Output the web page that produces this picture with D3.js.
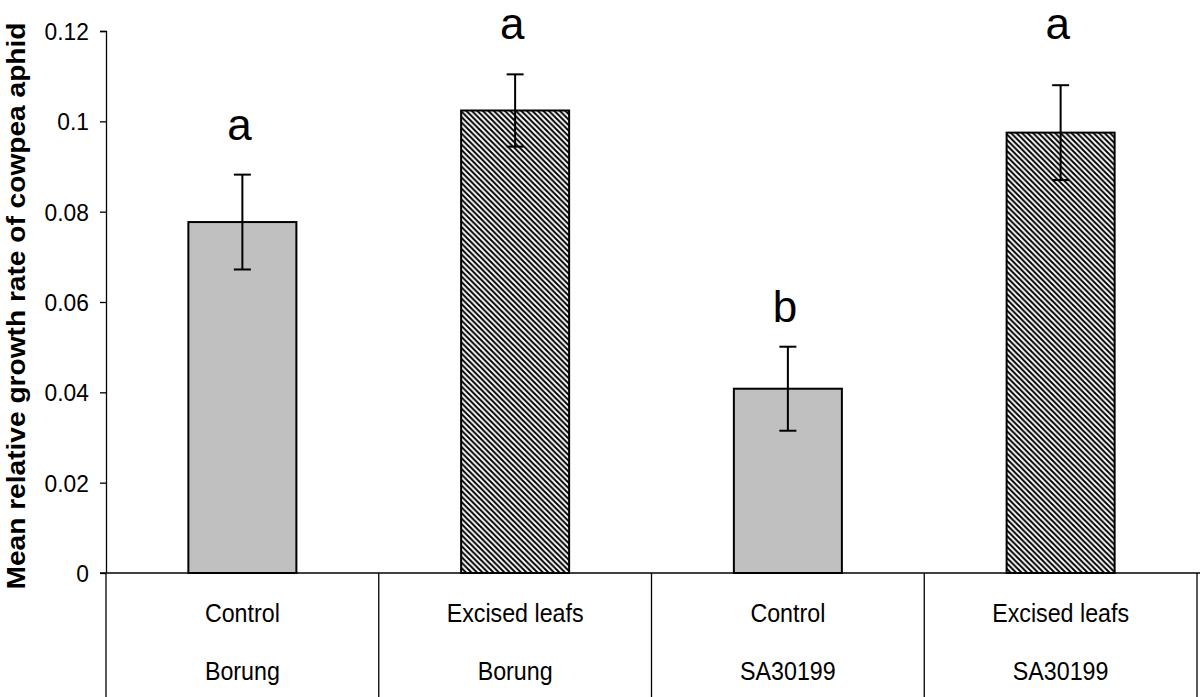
<!DOCTYPE html>
<html>
<head>
<meta charset="utf-8">
<script src="https://cdn.jsdelivr.net/npm/d3@7"></script>
<style>
  body { margin: 0; background: #fff; }
  text { font-family: "Liberation Sans", Arial, sans-serif; fill: #000; }
</style>
</head>
<body>
<svg id="chart" width="1200" height="697"></svg>
<script>
// data
const treatments = ["Control", "Excised leafs", "Control", "Excised leafs"];
const cultivars = ["Borung", "Borung", "SA30199", "SA30199"];
const means = [0.0777, 0.1024, 0.0408, 0.0975];
const errors = [0.0105, 0.0080, 0.0093, 0.0105];
const letters = ["a", "a", "b", "a"];
const letterAt = [0.0959, 0.1182, 0.0556, 0.1182];
const yTicks = [0, 0.02, 0.04, 0.06, 0.08, 0.1, 0.12];

const data = means.map((m, i) => ({
  key: i,
  treatment: treatments[i],
  cultivar: cultivars[i],
  mean: m,
  err: errors[i],
  letter: letters[i],
  letterAt: letterAt[i]
}));

const margin = { top: 31, right: 3, bottom: 124, left: 106 };
const width = 1200 - margin.left - margin.right;
const height = 697 - margin.top - margin.bottom;

const svg = d3.select("#chart");

// hatch for the excised leaf bars
const defs = svg.append("defs");
const pat = defs.append("pattern")
  .attr("id", "hatch")
  .attr("patternUnits", "userSpaceOnUse")
  .attr("width", 5.5)
  .attr("height", 5.5);
pat.append("rect").attr("width", 5.5).attr("height", 5.5).attr("fill", "#fff");
pat.append("path")
  .attr("d", "M-1.375,4.125 L1.375,6.875 M0,0 L5.5,5.5 M4.125,-1.375 L6.875,1.375")
  .attr("stroke", "#000")
  .attr("stroke-width", 2);

const g = svg.append("g").attr("transform", `translate(${margin.left},${margin.top})`);

const xScale = d3.scaleBand()
  .domain(data.map(d => d.key))
  .range([0, width])
  .paddingInner(0)
  .paddingOuter(0);
const barW = xScale.bandwidth() * 0.396;

const yScale = d3.scaleLinear()
  .domain([0, 0.12])
  .range([height, 0]);

// y axis
const yAxis = d3.axisLeft(yScale)
  .tickValues(yTicks)
  .tickSize(6)
  .tickPadding(12)
  .tickFormat(d => d === 0 ? "0" : String(+d.toFixed(2)));
const ya = g.append("g").call(yAxis);
ya.select(".domain").attr("d", `M-6,0.5H0.5V${height}`).attr("stroke", "#000").attr("stroke-width", 1.3);
ya.selectAll(".tick line").attr("stroke", "#000").attr("stroke-width", 1.3);
ya.selectAll(".tick text")
  .style("font-size", "24px")
  .attr("dy", "0.36em")
  .attr("transform", "scale(0.95,1)");

// bars
g.selectAll(".bar")
  .data(data)
  .enter()
  .append("rect")
  .attr("class", "bar")
  .attr("x", d => xScale(d.key) + (xScale.bandwidth() - barW) / 2)
  .attr("y", d => yScale(d.mean))
  .attr("width", barW)
  .attr("height", d => height - yScale(d.mean))
  .attr("fill", d => d.treatment === "Control" ? "#c0c0c0" : "url(#hatch)")
  .attr("stroke", "#000")
  .attr("stroke-width", 2);

// error bars
const cx = d => xScale(d.key) + xScale.bandwidth() / 2;
const eb = g.selectAll(".err").data(data).enter().append("g").attr("class", "err")
  .attr("stroke", "#000").attr("stroke-width", 2);
eb.append("line")
  .attr("x1", cx).attr("x2", cx)
  .attr("y1", d => yScale(d.mean + d.err))
  .attr("y2", d => yScale(d.mean - d.err));
eb.append("line")
  .attr("x1", d => cx(d) - 8.5).attr("x2", d => cx(d) + 8.5)
  .attr("y1", d => yScale(d.mean + d.err))
  .attr("y2", d => yScale(d.mean + d.err));
eb.append("line")
  .attr("x1", d => cx(d) - 8.5).attr("x2", d => cx(d) + 8.5)
  .attr("y1", d => yScale(d.mean - d.err))
  .attr("y2", d => yScale(d.mean - d.err));

// significance letters
g.selectAll(".letter")
  .data(data)
  .enter()
  .append("text")
  .attr("class", "letter")
  .attr("text-anchor", "middle")
  .attr("x", d => cx(d) - 3)
  .attr("y", d => yScale(d.letterAt))
  .style("font-size", "44px")
  .text(d => d.letter);

// baseline and category table underneath
g.append("line")
  .attr("x1", -6).attr("x2", width + margin.right)
  .attr("y1", height).attr("y2", height)
  .attr("stroke", "#000").attr("stroke-width", 1.3);

const seps = [0].concat(data.map(d => xScale(d.key) + xScale.bandwidth()));
g.selectAll(".sep")
  .data(seps)
  .enter()
  .append("line")
  .attr("class", "sep")
  .attr("x1", d => d).attr("x2", d => d)
  .attr("y1", height).attr("y2", height + margin.bottom)
  .attr("stroke", "#000").attr("stroke-width", 1.3);

g.selectAll(".lab1")
  .data(data)
  .enter()
  .append("text")
  .attr("text-anchor", "middle")
  .attr("transform", d => `translate(${cx(d)},${height + 49}) scale(0.93,1)`)
  .style("font-size", "25px")
  .text(d => d.treatment);

g.selectAll(".lab2")
  .data(data)
  .enter()
  .append("text")
  .attr("text-anchor", "middle")
  .attr("transform", d => `translate(${cx(d)},${height + 107}) scale(0.93,1)`)
  .style("font-size", "25px")
  .text(d => d.cultivar);

// y axis title
svg.append("text")
  .attr("transform", "translate(25,306) rotate(-90)")
  .attr("text-anchor", "middle")
  .attr("textLength", 567)
  .attr("lengthAdjust", "spacingAndGlyphs")
  .style("font-size", "25px")
  .style("font-weight", "bold")
  .text("Mean relative growth rate of cowpea aphid");
</script>
</body>
</html>
